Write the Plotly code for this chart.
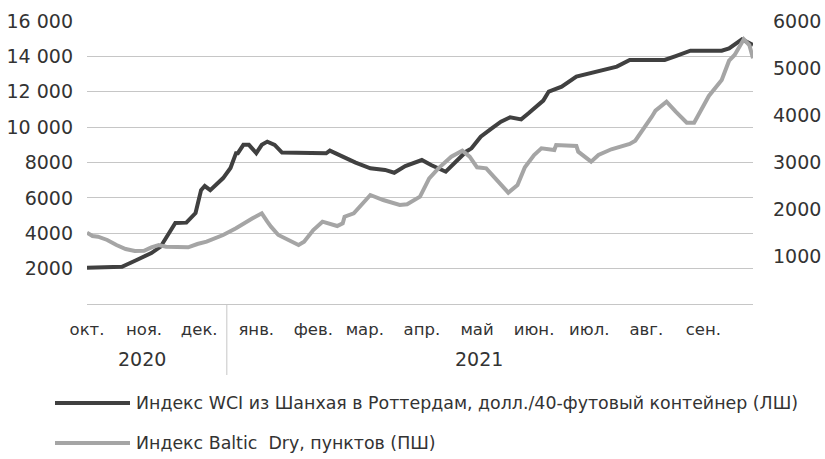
import plotly.graph_objects as go
from datetime import date

# ---- data ----
wci_dates = ["2020-10-01","2020-10-20","2020-10-28","2020-11-05","2020-11-10","2020-11-14",
             "2020-11-18","2020-11-24","2020-11-29","2020-12-02","2020-12-04","2020-12-07",
             "2020-12-10","2020-12-14","2020-12-18","2020-12-21","2020-12-22","2020-12-25",
             "2020-12-28","2021-01-01","2021-01-04","2021-01-07","2021-01-11","2021-01-15",
             "2021-02-08","2021-02-10","2021-02-17","2021-02-24","2021-03-04","2021-03-12",
             "2021-03-17","2021-03-23","2021-04-01","2021-04-06","2021-04-14","2021-04-20",
             "2021-04-25","2021-04-28","2021-05-03","2021-05-09","2021-05-14","2021-05-19",
             "2021-05-25","2021-05-29","2021-06-04","2021-06-06","2021-06-09","2021-06-16",
             "2021-06-24","2021-06-29","2021-07-06","2021-07-16","2021-07-23","2021-08-11",
             "2021-08-17","2021-08-25","2021-09-11","2021-09-15","2021-09-22","2021-09-28"]
wci_values = [2050, 2100, 2490, 2880, 3240, 3900,
              4580, 4600, 5140, 6440, 6670, 6440,
              6730, 7120, 7690, 8530, 8530, 9000,
              9000, 8530, 9000, 9180, 9000, 8560,
              8520, 8670, 8330, 7990, 7670, 7580,
              7420, 7800, 8140, 7860, 7480, 8140,
              8610, 8800, 9460, 9930, 10310, 10560,
              10440, 10780, 11350, 11500, 12010, 12290,
              12860, 12990, 13140, 13420, 13800, 13800,
              14020, 14320, 14320, 14450, 14960, 14640]

bdi_dates = ["2020-10-01","2020-10-04","2020-10-07","2020-10-12","2020-10-17","2020-10-22",
             "2020-10-27","2020-11-01","2020-11-05","2020-11-09","2020-11-13","2020-11-19",
             "2020-11-25","2020-11-30","2020-12-05","2020-12-14","2020-12-21","2020-12-30",
             "2021-01-04","2021-01-07","2021-01-09","2021-01-13","2021-01-19","2021-01-24",
             "2021-01-27","2021-02-01","2021-02-06","2021-02-14","2021-02-17","2021-02-18",
             "2021-02-23","2021-02-27","2021-03-04","2021-03-11","2021-03-20","2021-03-24",
             "2021-03-31","2021-04-05","2021-04-10","2021-04-17","2021-04-23","2021-04-27",
             "2021-05-01","2021-05-06","2021-05-13","2021-05-18","2021-05-23","2021-05-27",
             "2021-06-01","2021-06-05","2021-06-12","2021-06-13","2021-06-24","2021-06-25",
             "2021-07-02","2021-07-06","2021-07-13","2021-07-23","2021-07-26","2021-07-31",
             "2021-08-04","2021-08-06","2021-08-12","2021-08-17","2021-08-23","2021-08-27",
             "2021-08-31","2021-09-04","2021-09-11","2021-09-15","2021-09-18","2021-09-23",
             "2021-09-26","2021-09-28"]
bdi_values = [1512, 1442, 1427, 1357, 1251, 1166,
              1124, 1130, 1202, 1251, 1215, 1202,
              1202, 1272, 1321, 1463, 1605, 1817,
              1923, 1745, 1639, 1463, 1357, 1251,
              1321, 1569, 1745, 1654, 1711, 1851,
              1923, 2099, 2311, 2205, 2099, 2114,
              2275, 2665, 2877, 3123, 3250, 3123,
              2898, 2877, 2593, 2360, 2523, 2900,
              3159, 3301, 3265, 3371, 3350, 3229,
              3017, 3159, 3280, 3392, 3462, 3725,
              3971, 4098, 4289, 4077, 3844, 3844,
              4113, 4410, 4749, 5158, 5279, 5612,
              5491, 5209]

month_ticks = ["2020-10-01","2020-11-01","2020-12-01","2021-01-01","2021-02-01","2021-03-01",
               "2021-04-01","2021-05-01","2021-06-01","2021-07-01","2021-08-01","2021-09-01"]
month_labels = ["окт.","ноя.","дек.","янв.","фев.","мар.","апр.","май","июн.","июл.","авг.","сен."]
years = ["2020", "2021"]
year_groups = [month_ticks[0:3], month_ticks[3:]]

left_ticks = [2000, 4000, 6000, 8000, 10000, 12000, 14000, 16000]
left_labels = ["2000", "4000", "6000", "8000", "10 000", "12 000", "14 000", "16 000"]
right_ticks = [1000, 2000, 3000, 4000, 5000, 6000]

name_wci = "Индекс WCI из Шанхая в Роттердам, долл./40-футовый контейнер (ЛШ)"
name_bdi = "Индекс Baltic  Dry, пунктов (ПШ)"

DARK = "#404040"
GRAY = "#a5a5a5"
TEXT = "#333333"
GRID = "#c6c6c6"
FONT = "DejaVu Sans"

fig = go.Figure()
fig.add_trace(go.Scatter(x=wci_dates, y=wci_values, mode="lines", name=name_wci,
                         line=dict(color=DARK, width=4), yaxis="y"))
fig.add_trace(go.Scatter(x=bdi_dates, y=bdi_values, mode="lines", name=name_bdi,
                         line=dict(color=GRAY, width=4), yaxis="y2"))

W, H = 825, 459
L, R, T, B = 87, 753, 21, 304

fig.update_layout(
    width=W, height=H,
    margin=dict(l=L, r=W - R, t=T, b=H - B, autoexpand=False),
    paper_bgcolor="white", plot_bgcolor="white",
    showlegend=False,
    font=dict(family=FONT, color=TEXT, size=18),
    xaxis=dict(type="date", range=[wci_dates[0], wci_dates[-1]], automargin=False,
               tickvals=month_ticks, ticktext=month_labels, tickangle=0,
               showgrid=False, zeroline=False, showline=True, linecolor=GRID, linewidth=1,
               ticks="", ticklabelstandoff=10, tickfont=dict(size=16.5, color=TEXT)),
    yaxis=dict(range=[0, 16000], tickvals=left_ticks, ticktext=left_labels, automargin=False,
               showgrid=True, gridcolor=GRID, gridwidth=1, zeroline=False,
               showline=False, ticks="", ticklabelstandoff=13,
               tickfont=dict(size=19, color=TEXT)),
    yaxis2=dict(range=[0, 6000], tickvals=right_ticks, overlaying="y", side="right",
                automargin=False, showgrid=False, zeroline=False, showline=False, ticks="",
                ticklabelstandoff=19, tickfont=dict(size=19, color=TEXT)),
)

# year labels centered on middle month of each group
def mid_date(group):
    d0 = date.fromisoformat(group[0]); d1 = date.fromisoformat(group[-1])
    return (d0 + (d1 - d0) / 2).isoformat()

for yr, grp in zip(years, year_groups):
    fig.add_annotation(x=mid_date(grp), y=-(359 - B) / (B - T), xref="x", yref="paper",
                       text=yr, showarrow=False, font=dict(size=19, color=TEXT),
                       xanchor="center", yanchor="middle")

# divider between the year groups
d_dec = date.fromisoformat(month_ticks[2]); d_jan = date.fromisoformat(month_ticks[3])
div_x = (d_dec + (d_jan - d_dec) / 2).isoformat()
fig.add_shape(type="line", xref="x", yref="paper", x0=div_x, x1=div_x,
              y0=0, y1=-(375 - B) / (B - T), line=dict(color=GRID, width=1))

# custom legend
pw = R - L; ph = B - T
for i, (nm, col) in enumerate([(name_wci, DARK), (name_bdi, GRAY)]):
    py = 403 + 40 * i
    yp = (B - py) / ph
    fig.add_shape(type="line", xref="paper", yref="paper",
                  x0=(55 - L) / pw, x1=(130 - L) / pw, y0=yp, y1=yp,
                  line=dict(color=col, width=4))
    fig.add_annotation(x=(134 - L) / pw, y=yp, xref="paper", yref="paper", text=nm,
                       showarrow=False, xanchor="left", yanchor="middle",
                       font=dict(size=17.4, color=TEXT))

fig.write_html("out.html", config={"displayModeBar": False},
               post_script="document.body.style.margin='0';")
